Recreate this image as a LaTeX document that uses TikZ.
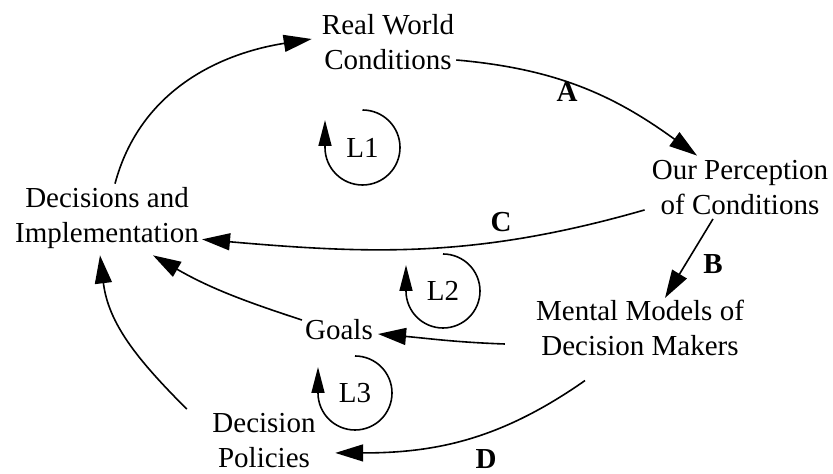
\documentclass[tikz,border=0pt]{standalone}
\usepackage{fontspec}
\setmainfont{Liberation Serif}
\usetikzlibrary{arrows.meta}
\begin{document}
\begin{tikzpicture}[x=1pt,y=1pt,
  lbl/.style={font=\fontsize{29}{35}\selectfont, align=center, inner sep=2pt},
  tag/.style={font=\fontsize{29}{35}\selectfont\bfseries, inner sep=0pt},
  link/.style={line width=1.6pt, -{Triangle[length=28pt,width=17pt]}},
  loopline/.style={line width=1.6pt, -{Triangle[length=26pt,width=13pt]}},
]
\useasboundingbox (0,0) rectangle (833,474);

% concepts
\node[lbl] (rw) at (388,432) {Real World\\Conditions};
\node[lbl] (op) at (740,286) {Our Perception\\of Conditions};
\node[lbl] (di) at (107,255.5) {Decisions and\\Implementation};
\node[lbl] (mm) at (640,146) {Mental Models of\\Decision Makers};
\node[lbl] (goals) at (339,144) {Goals};
\node[lbl] (dp) at (264,33.5) {Decision\\Policies};

% link labels
\node[tag] (ta) at (567,382) {A};
\node[tag] (tb) at (713,210) {B};
\node[tag] (tc) at (501,252) {C};
\node[tag] (td) at (486,15) {D};

% loop labels
\node[lbl] (l1) at (362.5,326.5) {L1};
\node[lbl] (l2) at (443,183) {L2};
\node[lbl] (l3) at (355,81) {L3};

% causal links
\draw[link] ([xshift=8pt,yshift=2pt]di.north) to[out=75,in=189] ([xshift=-8pt,yshift=3pt]rw.west);
\draw[link] ([yshift=-18pt]rw.east) to[out=-5,in=144] ([xshift=-43pt,yshift=3pt]op.north);
\draw[link] ([xshift=-5pt,yshift=7.5pt]op.south west) to[out=196,in=-5] ([xshift=1pt,yshift=12pt]di.south east);
\draw[link] ([xshift=-27pt,yshift=-1.5pt]op.south) -- ([xshift=25pt]mm.north);
\draw[link] ([xshift=-29pt,yshift=-16pt]mm.west) to[out=178,in=-5] ([xshift=3pt,yshift=-4pt]goals.east);
\draw[link] ([xshift=-1pt,yshift=10pt]goals.west) to[out=162,in=-30] ([xshift=46pt,yshift=-4pt]di.south);
\draw[link] ([xshift=-23.5pt,yshift=2pt]dp.north west) to[out=135,in=277] ([xshift=-7pt,yshift=-4pt]di.south);
\draw[link] ([xshift=-55pt,yshift=-22.5pt]mm.south) to[out=215,in=0] ([xshift=17.5pt,yshift=17pt]dp.south east);

% loop markers
\draw[loopline] ([yshift=37.5pt]l1.center) arc[start angle=90,end angle=-180,radius=37.5] -- ++(0,27.5);
\draw[loopline] ([yshift=37pt]l2.center) arc[start angle=90,end angle=-180,radius=37] -- ++(0,26);
\draw[loopline] ([yshift=37pt]l3.center) arc[start angle=90,end angle=-180,radius=37] -- ++(0,26);
\end{tikzpicture}
\end{document}
